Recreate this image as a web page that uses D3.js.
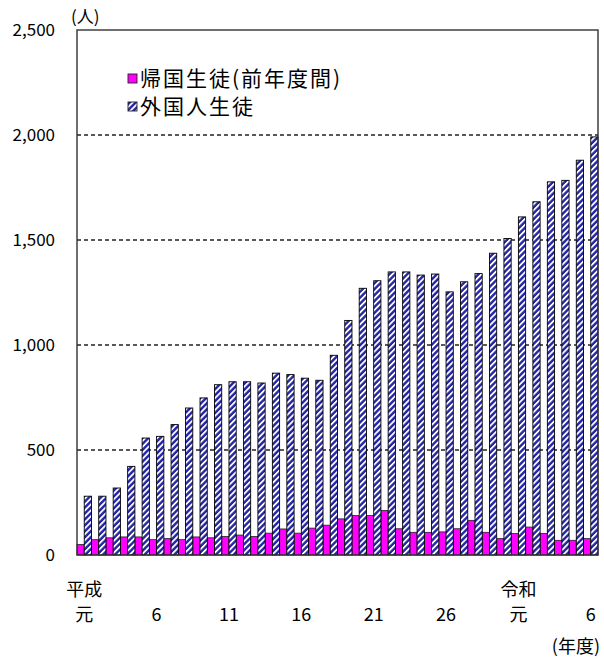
<!DOCTYPE html>
<html>
<head>
<meta charset="utf-8">
<script src="https://cdn.jsdelivr.net/npm/d3@7"></script>
<style>
  body { margin: 0; background: #fff; }
  text { font-family: 'Noto Sans CJK JP', sans-serif; fill: #000; }
</style>
</head>
<body>
<div id="chart"></div>
<script>
// fiscal years: Heisei 1-30, Reiwa 1-6
const fiscalYears = [
  'H1', 'H2', 'H3', 'H4', 'H5', 'H6', 'H7', 'H8', 'H9', 'H10',
  'H11', 'H12', 'H13', 'H14', 'H15', 'H16', 'H17', 'H18', 'H19', 'H20',
  'H21', 'H22', 'H23', 'H24', 'H25', 'H26', 'H27', 'H28', 'H29', 'H30',
  'R1', 'R2', 'R3', 'R4', 'R5', 'R6'
];

// 帰国生徒(前年度間)
const returneeStudents = [
  50, 73, 82, 86, 86, 73, 78, 73, 86, 82,
  88, 95, 88, 104, 124, 104, 128, 142, 172, 188,
  188, 212, 125, 108, 108, 110, 125, 165, 108, 78,
  102, 133, 102, 70, 70, 78
];

// 外国人生徒
const foreignStudents = [
  280, 280, 319, 422, 557, 565, 621, 700, 748, 811,
  825, 825, 819, 866, 859, 842, 832, 951, 1117, 1270,
  1306, 1348, 1348, 1333, 1338, 1253, 1301, 1340, 1437, 1507,
  1610, 1682, 1777, 1784, 1880, 1991
];

const seriesNames = ['帰国生徒(前年度間)', '外国人生徒'];
const yTicks = [0, 500, 1000, 1500, 2000, 2500];
const xTickYears = ['H1', 'H6', 'H11', 'H16', 'H21', 'H26', 'R1', 'R6'];
const xTickText = ['元', '6', '11', '16', '21', '26', '元', '6'];
const eraYears = ['H1', 'R1'];
const eraText = ['平成', '令和'];

const screenWidth = 604;
const chartHeight = 659;
const margin = { top: 30, right: 6, bottom: 104, left: 77 };
const width = screenWidth - margin.left - margin.right;
const height = chartHeight - margin.top - margin.bottom;

const svg = d3
  .select('#chart')
  .append('svg')
  .attr('width', screenWidth)
  .attr('height', chartHeight);

// hatch for the foreign-student bars
const hatch = svg
  .append('defs')
  .append('pattern')
  .attr('id', 'hatch')
  .attr('patternUnits', 'userSpaceOnUse')
  .attr('width', 4.2)
  .attr('height', 4.2)
  .attr('patternTransform', 'rotate(45)');
hatch.append('rect').attr('width', 4.2).attr('height', 4.2).attr('fill', '#2424a4');
hatch.append('rect').attr('width', 1.8).attr('height', 4.2).attr('fill', '#fff');

const g = svg
  .append('g')
  .attr('transform', `translate(${margin.left}, ${margin.top})`);

const x = d3.scaleBand().domain(fiscalYears).range([0, width]).padding(0);
const xInner = d3
  .scaleBand()
  .domain(['returnee', 'foreign'])
  .range([0, x.bandwidth()])
  .padding(0);
const y = d3.scaleLinear().domain([0, 2500]).range([height, 0]);

// dashed grid lines
g.append('g')
  .selectAll('line')
  .data(yTicks.filter((d) => d > 0 && d < 2500))
  .enter()
  .append('line')
  .attr('x1', 0)
  .attr('x2', width)
  .attr('y1', (d) => y(d))
  .attr('y2', (d) => y(d))
  .attr('stroke', '#222')
  .attr('stroke-width', 1.4)
  .attr('stroke-dasharray', '4,3');

const rows = fiscalYears.map((year, i) => ({
  year,
  returnee: returneeStudents[i],
  foreign: foreignStudents[i],
}));

// bars
g.append('g')
  .selectAll('rect')
  .data(rows)
  .enter()
  .append('rect')
  .attr('x', (d) => x(d.year) + xInner('returnee'))
  .attr('width', xInner.bandwidth())
  .attr('y', (d) => y(d.returnee))
  .attr('height', (d) => y(0) - y(d.returnee))
  .attr('fill', '#ff00ff')
  .attr('stroke', '#222')
  .attr('stroke-width', 0.8);

g.append('g')
  .selectAll('rect')
  .data(rows)
  .enter()
  .append('rect')
  .attr('x', (d) => x(d.year) + xInner('foreign'))
  .attr('width', xInner.bandwidth())
  .attr('y', (d) => y(d.foreign))
  .attr('height', (d) => y(0) - y(d.foreign))
  .attr('fill', 'url(#hatch)')
  .attr('stroke', '#000')
  .attr('stroke-width', 0.9);

// plot frame
g.append('rect')
  .attr('x', 0)
  .attr('y', 0)
  .attr('width', width)
  .attr('height', height)
  .attr('fill', 'none')
  .attr('stroke', '#333')
  .attr('stroke-width', 1.4);

// Y axis labels
const yAxis = g
  .append('g')
  .call(d3.axisLeft(y).tickValues(yTicks).tickFormat(d3.format(',')).tickSize(0).tickPadding(22));
yAxis.select('.domain').remove();
yAxis.selectAll('text').attr('font-size', 17).attr('font-family', "'Noto Sans CJK JP', sans-serif");

g.append('text')
  .attr('x', -6)
  .attr('y', -7)
  .attr('font-size', 17)
  .text('(人)');

// X axis labels
const xAxis = g
  .append('g')
  .attr('transform', `translate(0,${height})`)
  .call(
    d3
      .axisBottom(x)
      .tickValues(xTickYears)
      .tickFormat((d) => xTickText[xTickYears.indexOf(d)])
      .tickSize(0)
      .tickPadding(0)
  );
xAxis.select('.domain').remove();
xAxis
  .selectAll('text')
  .attr('dy', null)
  .attr('y', 66)
  .attr('font-size', 18)
  .attr('font-family', "'Noto Sans CJK JP', sans-serif");

g.append('g')
  .selectAll('text')
  .data(eraYears)
  .enter()
  .append('text')
  .attr('x', (d) => x(d) + x.bandwidth() / 2)
  .attr('y', height + 41)
  .attr('text-anchor', 'middle')
  .attr('font-size', 18)
  .text((d, i) => eraText[i]);

g.append('text')
  .attr('x', width + 2)
  .attr('y', height + 98)
  .attr('text-anchor', 'end')
  .attr('font-size', 18)
  .text('(年度)');

// legend
const legend = g
  .append('g')
  .attr('transform', 'translate(51, 42)')
  .selectAll('g')
  .data(seriesNames)
  .enter()
  .append('g')
  .attr('transform', (d, i) => `translate(0, ${i * 28})`);

legend
  .append('rect')
  .attr('width', 9)
  .attr('height', 9)
  .attr('y', 2)
  .attr('fill', (d, i) => (i === 0 ? '#ff00ff' : 'url(#hatch)'))
  .attr('stroke', '#222')
  .attr('stroke-width', 0.9);

legend
  .append('text')
  .attr('x', 12)
  .attr('y', 6.5)
  .attr('dy', '0.35em')
  .attr('font-size', 21)
  .attr('letter-spacing', 2)
  .text((d) => d);
</script>
</body>
</html>
